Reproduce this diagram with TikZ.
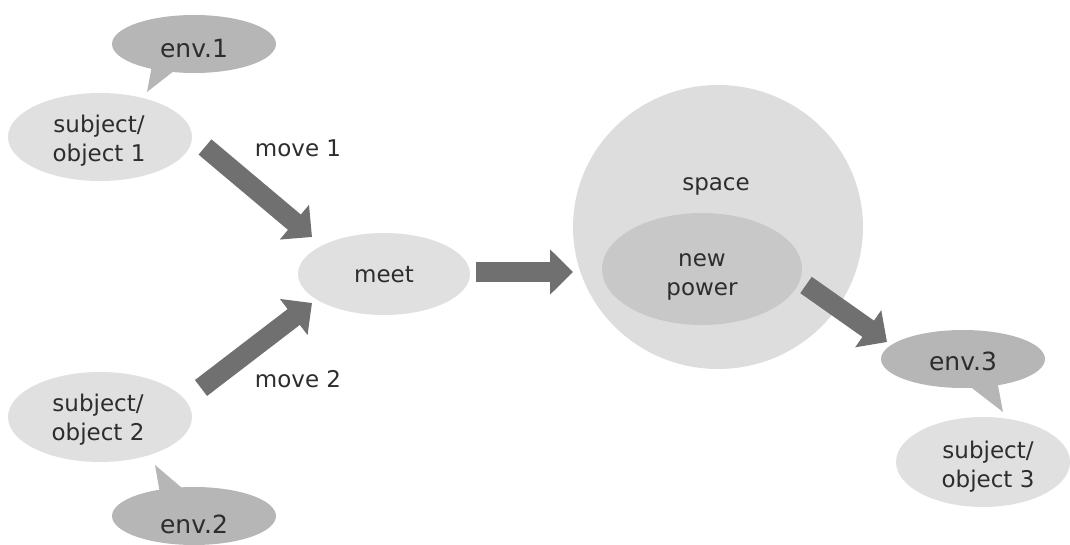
\documentclass[tikz,border=0pt]{standalone}
\usepackage{fontspec}
\setmainfont{DejaVu Sans}
\usetikzlibrary{arrows.meta,shapes.geometric}
\definecolor{envgray}{RGB}{182,182,182}
\definecolor{sogray}{RGB}{224,224,224}
\definecolor{spacegray}{RGB}{221,221,221}
\definecolor{powergray}{RGB}{200,200,200}
\definecolor{arrowgray}{RGB}{112,112,112}
\definecolor{txt}{RGB}{45,45,45}
\begin{document}
\begin{tikzpicture}[x=1pt,y=-1pt,
  blob/.style={ellipse, inner sep=0pt, draw=none},
  lbl/.style={anchor=base, text=txt, font=\fontsize{23}{29}\selectfont, align=center, inner sep=0pt},
  envlbl/.style={anchor=base, text=txt, font=\fontsize{25}{30}\selectfont, inner sep=0pt},
  fat/.style={line width=20pt, draw=arrowgray, -{Triangle[length=23pt,width=44pt]}}]
\useasboundingbox (0,0) rectangle (1070,545);

% speech bubbles and ellipses
\node[blob, fill=envgray, minimum width=164pt, minimum height=58pt] (env1) at (194,44) {};
\fill[envgray] ([shift={(-47,48)}]env1.center) -- ([shift={(-41,16)}]env1.center) -- ([shift={(-6,16)}]env1.center) -- cycle;
\node[blob, fill=sogray, minimum width=184pt, minimum height=88pt] (so1) at (100,137) {};

\node[blob, fill=sogray, minimum width=184pt, minimum height=90pt] (so2) at (100,417) {};
\node[blob, fill=envgray, minimum width=164pt, minimum height=58pt] (env2) at (194,516) {};
\fill[envgray] ([shift={(-39,-51)}]env2.center) -- ([shift={(-32,-11)}]env2.center) -- ([shift={(8,-11)}]env2.center) -- cycle;

\node[blob, fill=sogray, minimum width=172pt, minimum height=82pt] (meet) at (384,274) {};

\node[blob, fill=spacegray, minimum width=290pt, minimum height=284pt] (space) at (718,227) {};
\node[blob, fill=powergray, minimum width=200pt, minimum height=112pt] (np) at (702,269) {};

\node[blob, fill=envgray, minimum width=164pt, minimum height=58pt] (env3) at (963,359) {};
\fill[envgray] ([shift={(40,53)}]env3.center) -- ([shift={(-8,16)}]env3.center) -- ([shift={(33,16)}]env3.center) -- cycle;
\node[blob, fill=sogray, minimum width=174pt, minimum height=90pt] (so3) at (983,462) {};

% texts (base = baseline of the last line)
\node[envlbl] (env1t) at (194,58) {env.1};
\node[lbl] (so1t) at (99,162) {subject/\\object 1};
\node[lbl] (so2t) at (98,440) {subject/\\object 2};
\node[envlbl] (env2t) at (194,533) {env.2};
\node[lbl] (meett) at (384,283) {meet};
\node[lbl] (move1) at (298,157) {move 1};
\node[lbl] (move2) at (298,387) {move 2};
\node[lbl] (spacet) at (716,191) {space};
\node[lbl] (npt) at (702,295) {new\\power};
\node[envlbl] (env3t) at (963,370) {env.3};
\node[lbl] (so3t) at (988,487) {subject/\\object 3};

% arrows
\draw[fat] ([shift={(105,10)}]so1.center) -- ([shift={(-72,-37)}]meet.center);
\draw[fat] ([shift={(101,-29)}]so2.center) -- ([shift={(-72,29)}]meet.center);
\draw[fat] ([shift={(92,-2)}]meet.center) -- ([shift={(-145,45)}]space.center);
\draw[fat] ([shift={(104,16)}]np.center) -- ([shift={(-76,-17)}]env3.center);
\end{tikzpicture}
\end{document}
